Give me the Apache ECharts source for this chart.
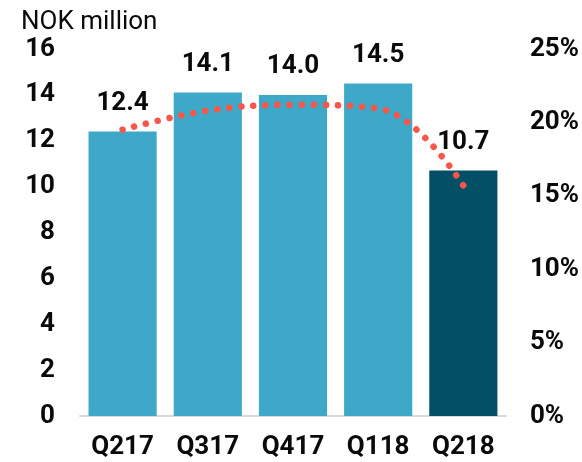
<!DOCTYPE html>
<html>
<head>
<meta charset="utf-8">
<script src="https://cdn.jsdelivr.net/npm/echarts@6/dist/echarts.min.js"></script>
<style>
  html, body { margin: 0; padding: 0; background: #fff; }
  #chart { width: 582px; height: 462px; }
</style>
</head>
<body>
<div id="chart"></div>
<script>
// Quarterly figures, NOK million, with margin on the secondary axis
const quarters = ['Q217', 'Q317', 'Q417', 'Q118', 'Q218'];
const amounts = [12.4, 14.1, 14.0, 14.5, 10.7];
const marginPct = [19.5, 20.8, 21.2, 20.95, 15.7];
const leftTicks = [0, 2, 4, 6, 8, 10, 12, 14, 16];
const rightTicks = [0, 5, 10, 15, 20, 25];

const barColor = '#3EA8C9';
const latestColor = '#034F66';
const lineColor = '#F8564A';
const font = 'Roboto, "Noto Sans", sans-serif';
const textColor = '#0a0a0a';
const fs = 26;

const chart = echarts.init(document.getElementById('chart'), null, { renderer: 'canvas' });

chart.setOption({
  animation: false,
  backgroundColor: '#ffffff',
  textStyle: { fontFamily: font },
  title: {
    text: 'NOK million',
    left: 16,
    top: 4,
    textStyle: { fontFamily: font, fontWeight: 'normal', fontSize: fs, color: textColor }
  },
  grid: { left: 80, right: 76, top: 49, bottom: 46, containLabel: false },
  xAxis: {
    type: 'category',
    data: quarters,
    axisLine: { show: true, lineStyle: { color: '#D9D9D9', width: 2 } },
    axisTick: { show: false },
    axisLabel: { fontFamily: font, fontWeight: 'bold', fontSize: fs, color: textColor, margin: 18 }
  },
  yAxis: [
    {
      type: 'value',
      min: leftTicks[0],
      max: leftTicks[leftTicks.length - 1],
      interval: 2,
      splitLine: { show: false },
      axisLine: { show: false },
      axisTick: { show: false },
      axisLabel: { fontFamily: font, fontWeight: 'bold', fontSize: fs, color: textColor, margin: 25 }
    },
    {
      type: 'value',
      min: rightTicks[0],
      max: rightTicks[rightTicks.length - 1],
      interval: 5,
      splitLine: { show: false },
      axisLine: { show: false },
      axisTick: { show: false },
      axisLabel: {
        fontFamily: font, fontWeight: 'bold', fontSize: fs, color: textColor, margin: 24,
        formatter: v => v + '%'
      }
    }
  ],
  series: [
    {
      type: 'bar',
      yAxisIndex: 0,
      barCategoryGap: '20%',
      data: amounts.map((v, i) => ({
        value: v,
        itemStyle: { color: i === amounts.length - 1 ? latestColor : barColor }
      })),
      label: {
        show: true,
        position: 'top',
        distance: 15,
        fontFamily: font,
        fontWeight: 'bold',
        fontSize: fs,
        color: textColor,
        formatter: p => p.value.toFixed(1)
      },
      z: 1
    },
    {
      type: 'line',
      yAxisIndex: 1,
      data: marginPct,
      smooth: 0.4,
      symbol: 'none',
      lineStyle: { color: lineColor, width: 6.5, type: [0.1, 12], cap: 'round' },
      z: 3
    }
  ]
});
</script>
</body>
</html>
